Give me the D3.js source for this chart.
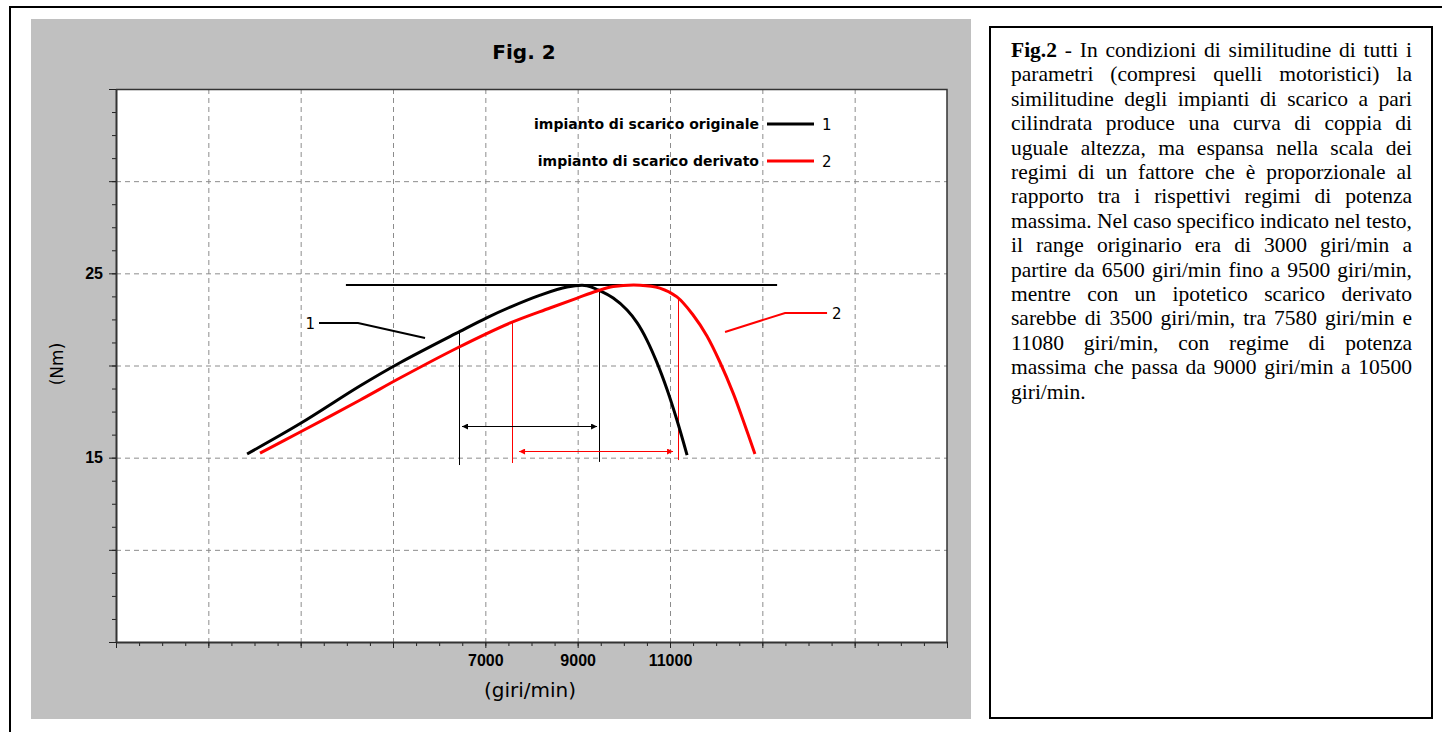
<!DOCTYPE html>
<html>
<head>
<meta charset="utf-8">
<script src="https://cdn.jsdelivr.net/npm/d3@7"></script>
<style>
  body { margin: 0; background: #fff; }
  svg { display: block; }
</style>
</head>
<body>
<svg id="chart" width="1442" height="732"></svg>
<script>
// Curve 1 - original exhaust (rpm, Nm)
const rpmOriginal = [1840, 2990, 4290, 5150, 6450, 7040, 7540, 8190, 8770, 9200, 9440, 9770, 10070, 10290, 10500, 10720, 10940, 11150, 11370];
const nmOriginal  = [15.2, 16.85, 18.9, 20.15, 21.85, 22.6, 23.17, 23.82, 24.26, 24.33, 24.1, 23.66, 23.01, 22.31, 21.38, 20.14, 18.67, 17.04, 15.14];

// Curve 2 - derived exhaust (rpm, Nm)
const rpmDerived = [2120, 2990, 4290, 5150, 6390, 7540, 8400, 8990, 9420, 9770, 10350, 10780, 11150, 11500, 11800, 12080, 12370, 12580, 12840];
const nmDerived  = [15.25, 16.39, 18.13, 19.32, 20.95, 22.31, 23.12, 23.66, 24.04, 24.28, 24.36, 24.2, 23.72, 22.74, 21.6, 20.19, 18.49, 17.06, 15.2];

// peak torque reference line
const peakRpm = [3980, 13320];
const peakNm = 24.37;

// range markers (vertical lines) and arrows
const markRpmOriginal = [6430, 9460];
const markTopOriginal = [21.85, 24.1];
const markBottomOriginal = [14.6, 14.77];
const markRpmDerived = [7580, 11170];
const markTopDerived = [22.31, 23.66];
const markBottomDerived = [14.71, 14.87];
const arrowRpmOriginal = [6495, 9420];
const arrowNmOriginal = 16.73;
const arrowRpmDerived = [7730, 11066];
const arrowNmDerived = 15.38;

// callouts
const callout1Rpm = [3397, 4242, 5694];
const callout1Nm = [22.31, 22.31, 21.49];
const callout2Rpm = [12192, 13492, 14402];
const callout2Nm = [21.82, 22.85, 22.85];

// ticks
const xTickLabels = [7000, 9000, 11000];
const yTickLabels = [15, 25];

const legendLabels = ["impianto di scarico originale", "impianto di scarico derivato"];
const legendIds = ["1", "2"];
const seriesColors = ["#000000", "#ff0000"];

const captionLines = [
  "Fig.2 - In condizioni di similitudine di tutti i",
  "parametri (compresi quelli motoristici) la",
  "similitudine degli impianti di scarico a pari",
  "cilindrata produce una curva di coppia di",
  "uguale altezza, ma espansa nella scala dei",
  "regimi di un fattore che è proporzionale al",
  "rapporto tra i rispettivi regimi di potenza",
  "massima. Nel caso specifico indicato nel testo,",
  "il range originario era di 3000 giri/min a",
  "partire da 6500 giri/min fino a 9500 giri/min,",
  "mentre con un ipotetico scarico derivato",
  "sarebbe di 3500 giri/min, tra 7580 giri/min e",
  "11080 giri/min, con regime di potenza",
  "massima che passa da 9000 giri/min a 10500",
  "giri/min."
];

const svg = d3.select("#chart");

// outer frame and grey panel
svg.append("rect")
    .attr("x", 10).attr("y", 7).attr("width", 1440).attr("height", 730)
    .attr("fill", "none").attr("stroke", "#000").attr("stroke-width", 2);
svg.append("rect")
    .attr("x", 31).attr("y", 19).attr("width", 940).attr("height", 700)
    .attr("fill", "#c0c0c0");

const plot = {left: 116, top: 89, right: 947, bottom: 642};

const x = d3.scaleLinear().domain([-1000, 17000]).range([plot.left, plot.right]);
const y = d3.scaleLinear().domain([5, 35]).range([plot.bottom, plot.top]);

svg.append("rect")
    .attr("x", plot.left).attr("y", plot.top)
    .attr("width", plot.right - plot.left).attr("height", plot.bottom - plot.top)
    .attr("fill", "#fff");

// grid
const grid = svg.append("g")
    .attr("stroke", "#8c8c8c").attr("stroke-dasharray", "5,4").attr("stroke-width", 1);
grid.selectAll(".gx")
    .data(d3.range(1000, 16000, 2000))
  .enter().append("line")
    .attr("x1", d => x(d) + 0.5).attr("x2", d => x(d) + 0.5)
    .attr("y1", plot.top).attr("y2", plot.bottom);
grid.selectAll(".gy")
    .data([10, 15, 20, 25, 30])
  .enter().append("line")
    .attr("y1", d => y(d) + 0.5).attr("y2", d => y(d) + 0.5)
    .attr("x1", plot.left).attr("x2", plot.right);

// plot border (top / right)
svg.append("path")
    .attr("d", `M${plot.left},${plot.top + 0.5}H${plot.right}V${plot.bottom}`)
    .attr("fill", "none").attr("stroke", "#333").attr("stroke-width", 1.5);

// x axis: minor + major ticks
svg.append("g")
    .attr("transform", "translate(0," + plot.bottom + ")")
    .call(d3.axisBottom(x).tickValues(d3.range(-1000, 17001, 500)).tickSize(4).tickSizeOuter(0).tickFormat(""))
    .call(g => g.select(".domain").remove())
    .call(g => g.selectAll("line").attr("stroke", "#222"));
svg.append("g")
    .attr("transform", "translate(0," + plot.bottom + ")")
    .call(d3.axisBottom(x).tickValues(d3.range(-1000, 17001, 2000)).tickSize(6).tickSizeOuter(0)
      .tickFormat(d => xTickLabels.includes(d) ? d : ""))
    .call(g => g.select(".domain").attr("stroke", "#333").attr("stroke-width", 2))
    .call(g => g.selectAll("line").attr("stroke", "#222"))
    .call(g => g.selectAll("text")
      .attr("font-family", "'Liberation Sans', Arial, sans-serif")
      .attr("font-weight", "bold").attr("font-size", 16).attr("fill", "#000")
      .attr("y", 13));

// y axis: minor + major ticks
svg.append("g")
    .attr("transform", "translate(" + plot.left + ",0)")
    .call(d3.axisLeft(y).tickValues(d3.range(5, 35.01, 1.25)).tickSize(4).tickSizeOuter(0).tickFormat(""))
    .call(g => g.select(".domain").remove())
    .call(g => g.selectAll("line").attr("stroke", "#222"));
svg.append("g")
    .attr("transform", "translate(" + plot.left + ",0)")
    .call(d3.axisLeft(y).tickValues(d3.range(5, 35.01, 5)).tickSize(7).tickSizeOuter(0)
      .tickFormat(d => yTickLabels.includes(d) ? d : ""))
    .call(g => g.select(".domain").attr("stroke", "#333").attr("stroke-width", 2))
    .call(g => g.selectAll("line").attr("stroke", "#222"))
    .call(g => g.selectAll("text")
      .attr("font-family", "'Liberation Sans', Arial, sans-serif")
      .attr("font-weight", "bold").attr("font-size", 16).attr("fill", "#000")
      .attr("x", -13));

// title and axis titles
svg.append("text")
    .attr("x", 524).attr("y", 59).attr("text-anchor", "middle")
    .attr("font-family", "'DejaVu Sans', sans-serif").attr("font-weight", "bold").attr("font-size", 20)
    .text("Fig. 2");
svg.append("text")
    .attr("x", 530).attr("y", 697).attr("text-anchor", "middle")
    .attr("font-family", "'DejaVu Sans', sans-serif").attr("font-size", 20)
    .text("(giri/min)");
svg.append("text")
    .attr("transform", "translate(63,364) rotate(-90)").attr("text-anchor", "middle")
    .attr("font-family", "'DejaVu Sans', sans-serif").attr("font-size", 17)
    .text("(Nm)");

// defs for arrows
const defs = svg.append("defs");
seriesColors.forEach((c, i) => {
  ["start", "end"].forEach(k => {
    defs.append("marker")
        .attr("id", "arr" + i + k)
        .attr("markerUnits", "userSpaceOnUse")
        .attr("markerWidth", 8).attr("markerHeight", 8)
        .attr("refX", k === "end" ? 6 : 0).attr("refY", 3)
        .attr("orient", "auto")
      .append("path")
        .attr("d", k === "end" ? "M0,0L6,3L0,6Z" : "M6,0L0,3L6,6Z")
        .attr("fill", c);
  });
});

// peak torque line
svg.append("line")
    .attr("x1", x(peakRpm[0])).attr("x2", x(peakRpm[1]))
    .attr("y1", y(peakNm)).attr("y2", y(peakNm))
    .attr("stroke", "#000").attr("stroke-width", 2);

// range markers
const markers = [
  {rpm: markRpmOriginal, top: markTopOriginal, bottom: markBottomOriginal, color: seriesColors[0]},
  {rpm: markRpmDerived, top: markTopDerived, bottom: markBottomDerived, color: seriesColors[1]}
];
markers.forEach(m => {
  svg.selectAll(null)
      .data(m.rpm)
    .enter().append("line")
      .attr("x1", d => Math.round(x(d)) + 0.5).attr("x2", d => Math.round(x(d)) + 0.5)
      .attr("y1", (d, i) => y(m.top[i])).attr("y2", (d, i) => y(m.bottom[i]))
      .attr("stroke", m.color).attr("stroke-width", 1);
});

// arrows
[[arrowRpmOriginal, arrowNmOriginal], [arrowRpmDerived, arrowNmDerived]].forEach(([r, n], i) => {
  svg.append("line")
      .attr("x1", x(r[0])).attr("x2", x(r[1]))
      .attr("y1", Math.round(y(n)) + 0.5).attr("y2", Math.round(y(n)) + 0.5)
      .attr("stroke", seriesColors[i]).attr("stroke-width", 1)
      .attr("marker-start", "url(#arr" + i + "start)")
      .attr("marker-end", "url(#arr" + i + "end)");
});

// torque curves
const line = d3.line()
    .x(d => x(d[0]))
    .y(d => y(d[1]))
    .curve(d3.curveCatmullRom.alpha(0.5));
const series = [
  d3.zip(rpmOriginal, nmOriginal),
  d3.zip(rpmDerived, nmDerived)
];
svg.selectAll(".curve")
    .data(series)
  .enter().append("path")
    .attr("class", "curve")
    .attr("d", line)
    .attr("fill", "none")
    .attr("stroke", (d, i) => seriesColors[i])
    .attr("stroke-width", 3);

// callouts
const callLine = d3.line().x(d => x(d[0])).y(d => y(d[1]));
svg.append("path")
    .attr("d", callLine(d3.zip(callout1Rpm, callout1Nm)))
    .attr("fill", "none").attr("stroke", "#000").attr("stroke-width", 2);
svg.append("path")
    .attr("d", callLine(d3.zip(callout2Rpm, callout2Nm)))
    .attr("fill", "none").attr("stroke", "#ff0000").attr("stroke-width", 2);
svg.append("text")
    .attr("x", x(callout1Rpm[0]) - 4).attr("y", y(callout1Nm[0]) + 6)
    .attr("text-anchor", "end")
    .attr("font-family", "'DejaVu Sans', sans-serif").attr("font-size", 15)
    .text("1");
svg.append("text")
    .attr("x", x(callout2Rpm[2]) + 5).attr("y", y(callout2Nm[2]) + 6)
    .attr("font-family", "'DejaVu Sans', sans-serif").attr("font-size", 15)
    .text("2");

// legend
const legend = svg.append("g")
    .selectAll("g")
    .data(legendLabels)
  .enter().append("g")
    .attr("transform", (d, i) => "translate(0," + (124 + i * 37) + ")");
legend.append("text")
    .attr("x", 759).attr("y", 5).attr("text-anchor", "end")
    .attr("font-family", "'DejaVu Sans', sans-serif").attr("font-weight", "bold").attr("font-size", 14)
    .text(d => d);
legend.append("line")
    .attr("x1", 767).attr("x2", 814)
    .attr("stroke", (d, i) => seriesColors[i]).attr("stroke-width", 3);
legend.append("text")
    .attr("x", 822).attr("y", 6)
    .attr("font-family", "'DejaVu Sans', sans-serif").attr("font-size", 15)
    .text((d, i) => legendIds[i]);

// caption box
svg.append("rect")
    .attr("x", 990).attr("y", 27).attr("width", 442).attr("height", 691)
    .attr("fill", "#fff").attr("stroke", "#000").attr("stroke-width", 2);

const cap = svg.append("g")
    .attr("font-family", "'Liberation Serif', 'Times New Roman', serif")
    .attr("font-size", 21.5);
const textLeft = 1011, textWidth = 401;
const probe = cap.append("text").attr("visibility", "hidden");
function measure(w, bold) {
  probe.attr("font-weight", bold ? "bold" : null).text(w);
  return probe.node().getComputedTextLength();
}
const spaceW = measure("a a") - measure("aa");
captionLines.forEach((ln, i) => {
  const words = ln.split(" ");
  const widths = words.map((w, j) => measure(w, i === 0 && j === 0));
  const total = d3.sum(widths);
  const last = i === captionLines.length - 1;
  const gap = last || words.length < 2 ? spaceW : (textWidth - total) / (words.length - 1);
  const t = cap.append("text").attr("y", 57 + i * 24.4);
  let cx = textLeft;
  words.forEach((w, j) => {
    t.append("tspan")
        .attr("x", cx)
        .attr("font-weight", i === 0 && j === 0 ? "bold" : null)
        .text(w);
    cx += widths[j] + gap;
  });
});
probe.remove();
</script>
</body>
</html>
